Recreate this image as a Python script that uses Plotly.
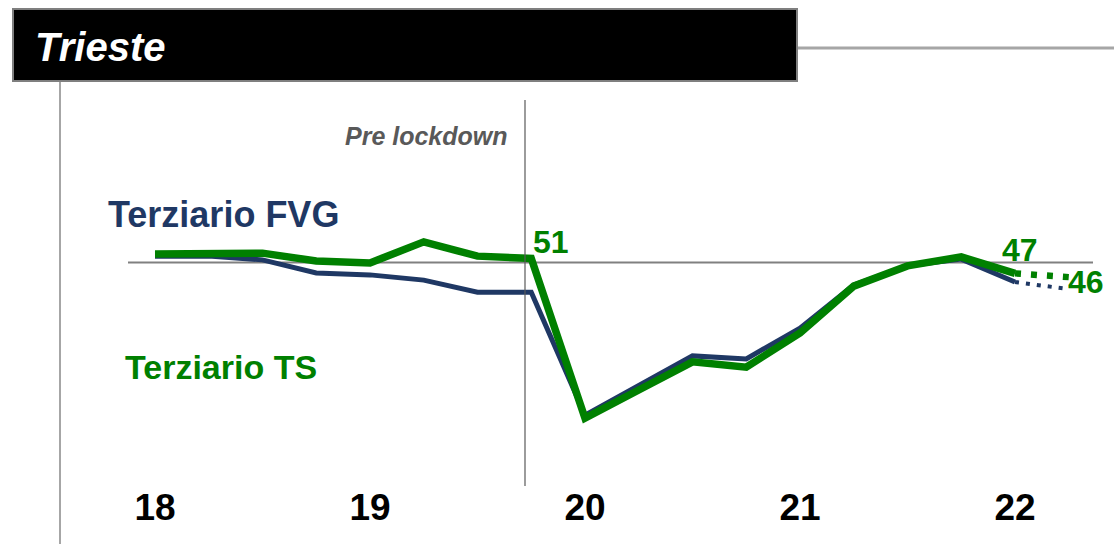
import plotly.graph_objects as go

# ---------------- data ----------------
quarters = ["18Q1", "18Q2", "18Q3", "18Q4", "19Q1", "19Q2", "19Q3", "19Q4",
            "20Q1", "20Q2", "20Q3", "20Q4", "21Q1", "21Q2", "21Q3", "21Q4",
            "22Q1", "22Q2"]
terziario_ts = [52.3, 52.5, 52.5, 50.4, 49.9, 55.5, 51.7, 51.1,
                8.5, 16.0, 23.5, 22.1, 31.2, 43.7, 49.1, 51.5, 47.1]
terziario_ts_forecast = [47.1, 46.1]
terziario_fvg = [51.7, 51.7, 50.7, 47.2, 46.7, 45.3, 42.1, 42.1,
                 9.3, 17.3, 25.1, 24.3, 32.5, 44.0, 49.1, 50.9, 44.8]
terziario_fvg_forecast = [44.8, 42.9]
year_ticks = ["18", "19", "20", "21", "22"]
reference_level = 50

x_all = list(range(len(quarters)))
x_hist = x_all[:len(terziario_ts)]
x_fc = x_all[len(terziario_ts) - 1:]
tick_pos = [i for i, q in enumerate(quarters) if q.endswith("Q1")]

W, H = 1114, 544
PLOT_H = 480
NAVY = "#1F3864"
GREEN = "#008000"
FONT = "Liberation Sans"


def px(x):
    return x / W


def py(y):
    return 1 - y / PLOT_H


fig = go.Figure()
fig.add_trace(go.Scatter(x=x_hist, y=terziario_fvg, mode="lines",
                         line=dict(color=NAVY, width=5), hoverinfo="skip"))
fig.add_trace(go.Scatter(x=x_fc, y=terziario_fvg_forecast, mode="lines",
                         line=dict(color=NAVY, width=4, dash="4px,7px"),
                         hoverinfo="skip"))
fig.add_trace(go.Scatter(x=x_hist, y=terziario_ts, mode="lines",
                         line=dict(color=GREEN, width=7.5), hoverinfo="skip"))
fig.add_trace(go.Scatter(x=x_fc, y=terziario_ts_forecast, mode="lines",
                         line=dict(color=GREEN, width=6.5, dash="6px,10px"),
                         hoverinfo="skip"))

shapes = [
    dict(type="line", xref="paper", yref="y", x0=px(128), x1=px(1093),
         y0=reference_level, y1=reference_level,
         line=dict(color="#808080", width=2), layer="below"),
    dict(type="line", xref="paper", yref="paper", x0=px(525), x1=px(525),
         y0=py(100), y1=py(486), line=dict(color="#595959", width=1.2)),
    dict(type="line", xref="paper", yref="paper", x0=px(60), x1=px(60),
         y0=py(81), y1=py(546), line=dict(color="#A6A6A6", width=2)),
    dict(type="line", xref="paper", yref="paper", x0=px(797), x1=px(1116),
         y0=py(48), y1=py(48), line=dict(color="#A6A6A6", width=3)),
    dict(type="rect", xref="paper", yref="paper", x0=px(13), x1=px(797),
         y0=py(81), y1=py(9), fillcolor="#000000",
         line=dict(color="#7F7F7F", width=2)),
]


def bold(size, color, italic=False):
    return dict(color=color, size=size, family=FONT, weight="bold",
                style="italic" if italic else "normal")


annotations = [
    dict(text="Trieste", xref="paper", yref="paper",
         x=px(33), y=py(47), xanchor="left", yanchor="middle",
         showarrow=False, font=bold(40, "white", True)),
    dict(text="Pre lockdown", xref="paper", yref="paper",
         x=px(510), y=py(136), xanchor="right", yanchor="middle",
         showarrow=False, font=bold(25, "#595959", True)),
    dict(text="Terziario FVG", xref="paper", yref="paper",
         x=px(106), y=py(214), xanchor="left", yanchor="middle",
         showarrow=False, font=bold(36, NAVY)),
    dict(text="Terziario TS", xref="paper", yref="paper",
         x=px(123), y=py(367), xanchor="left", yanchor="middle",
         showarrow=False, font=bold(34, GREEN)),
    dict(text="51", x=x_hist[7], y=terziario_ts[7],
         xanchor="left", yanchor="middle", xshift=0, yshift=16,
         showarrow=False, font=bold(32, GREEN)),
    dict(text="47", x=x_hist[-1], y=terziario_ts[-1],
         xanchor="center", yanchor="middle", xshift=5, yshift=23,
         showarrow=False, font=bold(32, GREEN)),
    dict(text="46", x=x_fc[-1], y=terziario_ts_forecast[-1],
         xanchor="left", yanchor="middle", xshift=-3, yshift=-5,
         showarrow=False, font=bold(32, GREEN)),
]

q_px = 53.75
x0_px = 155
y50_px = 262.5
k = 3.75

fig.update_layout(
    width=W, height=H,
    margin=dict(l=0, r=0, t=0, b=H - PLOT_H, pad=0),
    paper_bgcolor="white", plot_bgcolor="white",
    showlegend=False,
    shapes=shapes, annotations=annotations,
    xaxis=dict(range=[-x0_px / q_px, (W - x0_px) / q_px],
               tickvals=tick_pos, ticktext=year_ticks,
               tickfont=bold(37, "black"),
               showgrid=False, zeroline=False, showline=False, ticks="",
               ticklabelstandoff=2, fixedrange=True),
    yaxis=dict(range=[50 - (PLOT_H - y50_px) / k, 50 + y50_px / k],
               visible=False, showgrid=False, zeroline=False, fixedrange=True),
)

fig.write_html("out.html", config={"displayModeBar": False},
               post_script="document.body.style.margin='0';"
                           "document.body.style.overflow='hidden';")
